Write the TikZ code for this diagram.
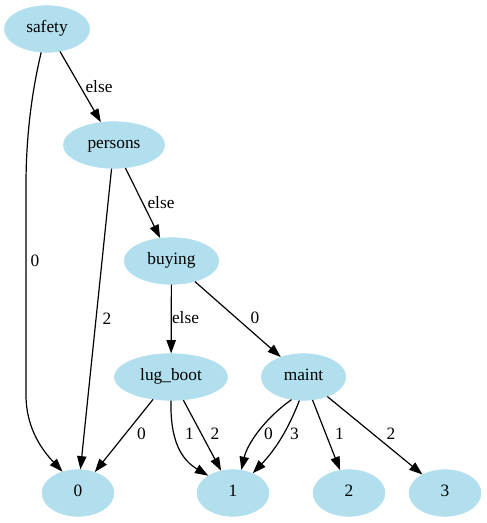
\documentclass[tikz,border=0pt]{standalone}
\usepackage{fontspec}
\setmainfont{Liberation Serif}
\usetikzlibrary{shapes.geometric,arrows.meta}
\definecolor{nodefill}{HTML}{B2DFEE}
\begin{document}
\begin{tikzpicture}[x=0.75pt,y=-0.75pt,
  treenode/.style={ellipse, fill=nodefill, draw=nodefill, inner sep=0pt,
    minimum height=35pt, text height=0.75em, text depth=0.2em,
    font=\fontsize{13}{15}\selectfont},
  leaf/.style={treenode, minimum width=54pt},
  edge/.style={draw=black, line width=0.9pt, -{Triangle[length=10pt,width=7pt]}},
  elabel/.style={font=\fontsize{13}{15}\selectfont, inner sep=0pt}]
\useasboundingbox (0,0) rectangle (486,523);

% decision nodes
\node[treenode, minimum width=64pt] (safety) at (47,29) {safety};
\node[treenode, minimum width=76pt] (persons) at (114,145) {persons};
\node[treenode, minimum width=71pt] (buying) at (171.5,261) {buying};
\node[treenode, minimum width=85pt] (lugboot) at (171,377) {lug\_boot};
\node[treenode, minimum width=63.5pt] (maint) at (303.5,377) {maint};

% class leaves
\node[leaf] (n0) at (78,493) {0};
\node[leaf] (n1) at (233,493) {1};
\node[leaf] (n2) at (349,493) {2};
\node[leaf] (n3) at (445,493) {3};

% edges
\draw[edge] (safety) -- (persons);
\draw[edge] (safety.256) .. controls (31,95) and (26,140) .. (26,185)
  -- (26,395) .. controls (26,430) and (44,452) .. (n0.126);
\draw[edge] (persons) -- (n0);
\draw[edge] (persons) -- (buying);
\draw[edge] (buying) -- (lugboot);
\draw[edge] (buying) -- (maint);
\draw[edge] (lugboot) -- (n0);
\draw[edge] (lugboot.-90) .. controls (170,442) and (182,460) .. (n1.145);
\draw[edge] (lugboot) -- (n1);
\draw[edge] (maint.-118) .. controls (263,420) and (247,445) .. (n1.70);
\draw[edge] (maint.-100) .. controls (288,430) and (275,450) .. (n1.45);
\draw[edge] (maint) -- (n2);
\draw[edge] (maint) -- (n3);

% edge labels
\node[elabel] (l1) at (99,87) {else};
\node[elabel] (l2) at (35,261) {0};
\node[elabel] (l3) at (107,319) {2};
\node[elabel] (l4) at (161,203) {else};
\node[elabel] (l5) at (185.5,318) {else};
\node[elabel] (l6) at (255,318) {0};
\node[elabel] (l7) at (141.5,434) {0};
\node[elabel] (l8) at (189.5,434) {1};
\node[elabel] (l9) at (215,434) {2};
\node[elabel] (l10) at (268.5,434) {0};
\node[elabel] (l11) at (294.5,434) {3};
\node[elabel] (l12) at (339.5,434) {1};
\node[elabel] (l13) at (391,434) {2};
\end{tikzpicture}
\end{document}
